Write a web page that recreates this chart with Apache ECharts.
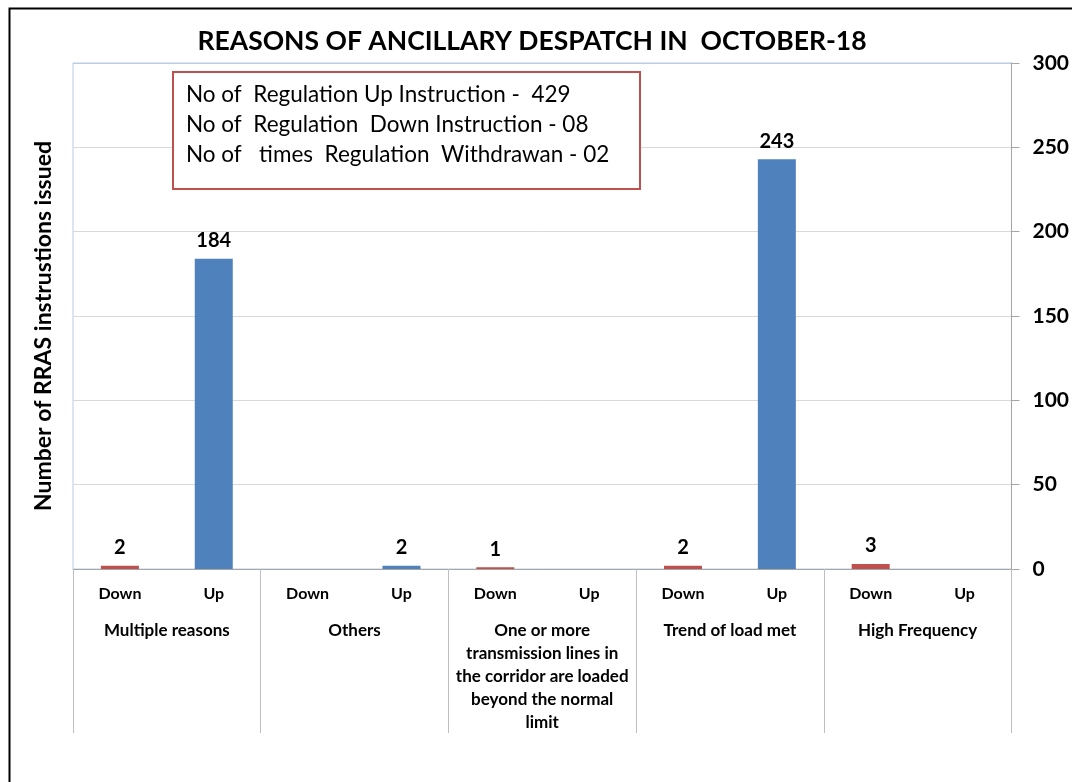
<!DOCTYPE html>
<html>
<head>
<meta charset="utf-8">
<script src="https://cdn.jsdelivr.net/npm/echarts@6/dist/echarts.min.js"></script>
<style>
  html, body { margin: 0; padding: 0; background: #fff; }
  #main { width: 1072px; height: 782px; }
</style>
</head>
<body>
<div id="main"></div>
<script>
// reasons (outer axis) and direction (inner axis)
const reasons = [
  'Multiple reasons',
  'Others',
  'One or more\ntransmission lines in\nthe corridor are loaded\nbeyond the normal\nlimit',
  'Trend of load met',
  'High Frequency'
]
const directions = ['Down', 'Up']
const downValues = [2, null, 1, 2, 3]
const upValues = [184, 2, null, 243, null]
const yTicks = [0, 50, 100, 150, 200, 250, 300]
const noteLines = [
  'No of  Regulation Up Instruction -  429',
  'No of  Regulation  Down Instruction - 08',
  'No of   times  Regulation  Withdrawan - 02'
]

const FONT = 'Lato'

// flatten to 10 categories: Down/Up per reason
const innerCats = []
const downSeries = []
const upSeries = []
reasons.forEach((r, i) => {
  directions.forEach(d => {
    innerCats.push(d)
    downSeries.push(d === 'Down' ? downValues[i] : null)
    upSeries.push(d === 'Up' ? upValues[i] : null)
  })
})

const chart = echarts.init(document.getElementById('main'))

const barLabel = {
  show: true,
  position: 'top',
  distance: 8,
  color: '#000',
  fontFamily: FONT,
  fontWeight: 'bold',
  fontSize: 20
}

const option = {
  animation: false,
  backgroundColor: '#fff',
  title: {
    text: 'REASONS OF ANCILLARY DESPATCH IN  OCTOBER-18',
    left: 527,
    textAlign: 'center',
    top: 23,
    textStyle: {
      fontFamily: FONT,
      fontWeight: 'bold',
      fontSize: 26.5,
      color: '#000'
    }
  },
  grid: {
    left: 73,
    right: 58,
    top: 63,
    bottom: 213,
    show: true,
    borderColor: '#b9cde5',
    borderWidth: 1
  },
  xAxis: [
    {
      type: 'category',
      data: innerCats,
      position: 'bottom',
      axisLine: { lineStyle: { color: '#a6a6a6' } },
      axisTick: { show: false },
      axisLabel: {
        interval: 0,
        margin: 17,
        fontFamily: FONT,
        fontWeight: 'bold',
        fontSize: 16,
        color: '#000'
      }
    },
    {
      type: 'category',
      data: reasons,
      position: 'bottom',
      axisLine: { show: false },
      axisTick: {
        show: true,
        length: 164,
        lineStyle: { color: '#bfbfbf' }
      },
      axisLabel: {
        interval: 0,
        margin: 50,
        lineHeight: 23,
        fontFamily: FONT,
        fontWeight: 'bold',
        fontSize: 17,
        color: '#000'
      }
    }
  ],
  yAxis: {
    type: 'value',
    position: 'right',
    min: 0,
    max: 300,
    interval: 50,
    axisLine: { show: true, lineStyle: { color: '#a6a6a6' } },
    axisTick: { show: true, length: 8, lineStyle: { color: '#a6a6a6' } },
    axisLabel: {
      margin: 21,
      fontFamily: FONT,
      fontWeight: 'bold',
      fontSize: 21,
      color: '#000',
      customValues: yTicks
    },
    splitLine: {
      lineStyle: {
        color: ['#d9d9d9', '#d9d9d9', '#d9d9d9', '#d9d9d9', '#d9d9d9', '#d9d9d9', '#b9cde5']
      }
    }
  },
  series: [
    {
      name: 'Down',
      type: 'bar',
      stack: 'all',
      barWidth: 38,
      data: downSeries,
      itemStyle: { color: '#c0504d' },
      label: barLabel
    },
    {
      name: 'Up',
      type: 'bar',
      stack: 'all',
      barWidth: 38,
      data: upSeries,
      itemStyle: { color: '#4f81bd' },
      label: barLabel
    }
  ],
  graphic: [
    {
      type: 'rect',
      left: 7,
      top: 6,
      shape: { width: 1100, height: 820 },
      style: { fill: 'none', stroke: '#000', lineWidth: 2 },
      silent: true,
      z: 100
    },
    {
      type: 'text',
      x: 44,
      y: 326,
      rotation: Math.PI / 2,
      style: {
        text: 'Number of RRAS instrustions issued',
        fontFamily: FONT,
        fontWeight: 'bold',
        fontSize: 23,
        fill: '#000',
        align: 'center',
        verticalAlign: 'middle'
      }
    },
    {
      type: 'group',
      left: 172,
      top: 71,
      z: 50,
      children: [
        {
          type: 'rect',
          z: 50,
          shape: { x: 0, y: 0, width: 467, height: 117 },
          style: { fill: '#fff', stroke: '#c0504d', lineWidth: 2 }
        },
        {
          type: 'text',
          z: 51,
          x: 13,
          y: 8,
          style: {
            text: noteLines.join('\n'),
            fontFamily: FONT,
            fontSize: 22.5,
            lineHeight: 30,
            fill: '#000'
          }
        }
      ]
    }
  ]
}

chart.setOption(option)
</script>
</body>
</html>
